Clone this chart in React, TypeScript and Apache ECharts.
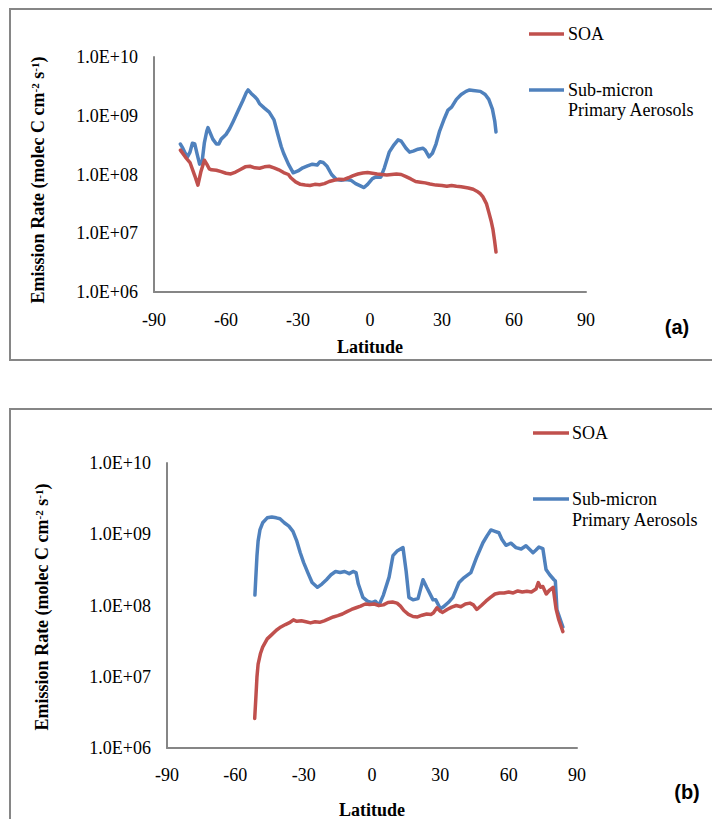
import React, { useEffect, useRef } from "react";
import * as echarts from "echarts";

// ---------- Data ----------
// Panel (a)
const latSoaA = [-79, -77, -75, -73, -71.7, -70.5, -69, -68, -67, -66, -64, -62, -60, -58, -56, -54, -52, -50, -48, -46, -44, -42, -40, -38, -36, -34, -33, -31, -29, -27, -25, -23, -21, -19, -17, -15, -13, -11, -9, -7, -5, -3, -1, 1, 3, 5, 7, 9, 11, 13, 15, 17, 19, 21, 23, 25, 27.5, 30, 32, 34, 36, 38, 41, 43, 44.5, 46, 47, 48.5, 49.6, 50.5, 51.25, 51.9, 52.5];
const soaA = [2.6e8, 2.0e8, 1.6e8, 9.5e7, 6.6e7, 1.1e8, 1.75e8, 1.5e8, 1.25e8, 1.2e8, 1.18e8, 1.12e8, 1.05e8, 1.02e8, 1.1e8, 1.22e8, 1.35e8, 1.38e8, 1.3e8, 1.28e8, 1.35e8, 1.38e8, 1.3e8, 1.2e8, 1.08e8, 1.0e8, 8.8e7, 7.5e7, 6.8e7, 6.6e7, 6.5e7, 6.8e7, 6.7e7, 7.0e7, 7.6e7, 8.0e7, 8.3e7, 8.2e7, 8.8e7, 9.6e7, 1.02e8, 1.06e8, 1.08e8, 1.05e8, 1.02e8, 1.0e8, 9.8e7, 1.0e8, 1.02e8, 1.0e8, 9.2e7, 8.4e7, 7.6e7, 7.4e7, 7.2e7, 6.9e7, 6.6e7, 6.5e7, 6.3e7, 6.5e7, 6.3e7, 6.2e7, 5.9e7, 5.6e7, 5.2e7, 4.7e7, 4.2e7, 3.2e7, 2.2e7, 1.6e7, 1.15e7, 7.5e6, 4.8e6];

const latPrimA = [-79, -78, -77, -76, -75, -74, -73, -72, -71, -70, -69, -68, -67.5, -66.5, -65.5, -64, -63, -62, -60, -58.5, -57, -55, -53, -51.5, -50.8, -49.5, -48, -47, -46, -44, -42, -40, -38.5, -37, -36, -34, -32, -30, -28, -26, -24, -22, -20.8, -19.5, -18, -16, -14, -12, -10, -8, -6, -4, -2.5, -1, 1, 2.5, 4.5, 6, 8, 10, 11.7, 13, 15, 16.5, 18, 20, 22, 23, 24.6, 26, 27.5, 29, 31, 32.5, 34, 36, 38, 40, 41.5, 43, 46, 48, 49.5, 51, 52, 52.5];
const primA = [3.3e8, 2.8e8, 2.3e8, 2.0e8, 2.4e8, 3.4e8, 3.3e8, 2.2e8, 1.5e8, 1.6e8, 3.5e8, 5.5e8, 6.3e8, 5.0e8, 4.0e8, 3.3e8, 3.3e8, 4.0e8, 4.8e8, 6.0e8, 8.0e8, 1.2e9, 1.8e9, 2.5e9, 2.75e9, 2.4e9, 2.1e9, 1.9e9, 1.6e9, 1.35e9, 1.15e9, 8.5e8, 5.0e8, 3.0e8, 2.3e8, 1.5e8, 1.07e8, 1.15e8, 1.3e8, 1.4e8, 1.5e8, 1.45e8, 1.65e8, 1.6e8, 1.4e8, 1.0e8, 8.2e7, 8.0e7, 8.2e7, 8.0e7, 7.0e7, 6.4e7, 6.0e7, 6.8e7, 8.5e7, 9.1e7, 9.0e7, 1.3e8, 2.4e8, 3.2e8, 3.9e8, 3.7e8, 2.8e8, 2.4e8, 2.5e8, 2.7e8, 2.8e8, 2.6e8, 2.0e8, 2.3e8, 3.3e8, 5.5e8, 9.0e8, 1.25e9, 1.4e9, 1.9e9, 2.3e9, 2.6e9, 2.75e9, 2.7e9, 2.6e9, 2.3e9, 1.9e9, 1.3e9, 8.0e8, 5.3e8];

// Panel (b)
const latSoaB = [-51.5, -51, -50.5, -50, -49, -48, -46, -44, -42, -40, -38, -36, -34.5, -33, -31, -29, -27, -25, -23, -21, -19, -17, -15, -13, -11, -9, -7, -5, -3, -1, 1, 3, 5, 7, 9, 11, 12.5, 14, 16, 18, 20, 22, 24, 26, 27, 28.5, 30, 31, 33, 35, 37, 39, 41, 43, 44.5, 46, 48, 50, 52, 54, 56, 58, 60, 62, 64, 66, 68, 70, 72, 73, 74, 75, 76.5, 78, 79.5, 80.8, 82, 83.8];
const soaB = [2.6e6, 5.0e6, 1.0e7, 1.5e7, 2.1e7, 2.6e7, 3.4e7, 3.9e7, 4.5e7, 5.0e7, 5.4e7, 5.8e7, 6.3e7, 6.0e7, 6.1e7, 5.9e7, 5.7e7, 5.9e7, 5.8e7, 6.1e7, 6.5e7, 6.9e7, 7.2e7, 7.6e7, 8.2e7, 8.8e7, 9.3e7, 9.8e7, 1.05e8, 1.03e8, 1.05e8, 1.0e8, 1.02e8, 1.1e8, 1.12e8, 1.08e8, 9.8e7, 8.5e7, 7.5e7, 7.0e7, 6.9e7, 7.3e7, 7.6e7, 7.5e7, 7.9e7, 9.3e7, 8.3e7, 8.0e7, 8.8e7, 9.5e7, 1.0e8, 9.6e7, 1.05e8, 1.08e8, 1.02e8, 8.8e7, 1.0e8, 1.15e8, 1.3e8, 1.45e8, 1.5e8, 1.5e8, 1.55e8, 1.5e8, 1.6e8, 1.55e8, 1.58e8, 1.55e8, 1.7e8, 2.1e8, 1.8e8, 1.85e8, 1.45e8, 1.65e8, 1.8e8, 9.0e7, 6.3e7, 4.3e7];

const latPrimB = [-51.4, -51, -50.5, -50, -49.2, -48, -46, -44, -42, -40.4, -38.5, -36.5, -34.7, -33, -31.5, -30, -28, -26.3, -24, -22, -20, -18, -16, -14, -12, -10, -8.3, -7, -6, -4, -2, 0, 1.5, 3, 5, 7.5, 9.2, 11, 13.6, 15, 16.2, 18, 20.2, 22.4, 24, 26.8, 28, 30, 31.2, 33.5, 35.5, 38.2, 40, 43.4, 46, 48.7, 50.5, 52.2, 54, 55.7, 57, 58.8, 61, 63.2, 65.5, 67.6, 70.7, 72, 73.3, 75, 76.4, 78, 79.9, 80.5, 81.2, 83.8];
const primB = [1.4e8, 2.5e8, 5.0e8, 8.0e8, 1.15e9, 1.45e9, 1.7e9, 1.75e9, 1.7e9, 1.65e9, 1.45e9, 1.3e9, 1.1e9, 8.0e8, 5.5e8, 4.0e8, 2.8e8, 2.1e8, 1.8e8, 2.0e8, 2.3e8, 2.7e8, 3.0e8, 2.9e8, 3.0e8, 2.8e8, 3.0e8, 2.9e8, 2.0e8, 1.3e8, 1.15e8, 1.1e8, 1.15e8, 1.0e8, 1.4e8, 2.5e8, 5.0e8, 5.8e8, 6.5e8, 3.0e8, 1.3e8, 1.2e8, 1.25e8, 2.3e8, 1.8e8, 1.2e8, 1.2e8, 9.0e7, 9.5e7, 1.1e8, 1.3e8, 2.1e8, 2.4e8, 2.9e8, 4.8e8, 7.6e8, 9.5e8, 1.15e9, 1.1e9, 1.05e9, 8.5e8, 7.0e8, 7.5e8, 6.5e8, 6.2e8, 6.9e8, 5.5e8, 6.0e8, 6.6e8, 6.3e8, 3.2e8, 2.7e8, 2.3e8, 2.2e8, 8.7e7, 5.0e7];

const xTicks = { min: -90, max: 90, interval: 30 };
const seriesNames = ["SOA", "Sub-micron\nPrimary Aerosols"];
const panelLabels = ["(a)", "(b)"];

const RED = "#C0504D";
const BLUE = "#4F81BD";
const AXIS = "#868686";
const SERIF = "'Liberation Serif', 'Times New Roman', serif";

const pairs = (xs: number[], ys: number[]) => xs.map((x, i) => [x, ys[i]]);

const yFmt = (v: number) => {
  const e = Math.round(Math.log10(v));
  return "1.0E+" + String(e).padStart(2, "0");
};

export default function App() {
  const ref = useRef<HTMLDivElement>(null);
  useEffect(() => {
    if (!ref.current) return;
    const chart = echarts.init(ref.current, undefined, { renderer: "svg" });

    const grids = [
      { left: 154, top: 57, width: 432, height: 235 },
      { left: 167, top: 463, width: 410, height: 285 },
    ];

    const xAxis = grids.map((_, i) => ({
      type: "value",
      gridIndex: i,
      min: xTicks.min,
      max: xTicks.max,
      interval: xTicks.interval,
      axisLine: { show: true, onZero: false, lineStyle: { color: AXIS, width: 2 } },
      axisTick: { show: false },
      splitLine: { show: false },
      axisLabel: { color: "#000", fontFamily: SERIF, fontSize: 18, margin: i === 0 ? 19 : 18 },
    }));

    const yAxis = grids.map((_, i) => ({
      type: "log",
      logBase: 10,
      gridIndex: i,
      min: 1e6,
      max: 1e10,
      axisLine: { show: true, onZero: false, lineStyle: { color: AXIS, width: 2 } },
      axisTick: { show: false },
      splitLine: { show: false },
      minorSplitLine: { show: false },
      axisLabel: { color: "#000", fontFamily: SERIF, fontSize: 18, margin: 16, formatter: yFmt },
    }));

    const line = (name: string, data: number[][], color: string, idx: number) => ({
      type: "line",
      name,
      xAxisIndex: idx,
      yAxisIndex: idx,
      data,
      showSymbol: false,
      symbol: "none",
      lineStyle: { color, width: 3.5, join: "round", cap: "round" },
      itemStyle: { color },
      z: name === "SOA" ? 3 : 2,
    });

    const yTitle = (x: number, y: number) => ({
      type: "text",
      x,
      y,
      rotation: Math.PI / 2,
      style: {
        text: "{b|Emission Rate (molec C cm}{s|-2}{b| s}{s|-1}{b|)}",
        textAlign: "center",
        textVerticalAlign: "middle",
        fill: "#000",
        rich: {
          b: { fontFamily: SERIF, fontWeight: "bold", fontSize: 18, fill: "#000", verticalAlign: "bottom" },
          s: { fontFamily: SERIF, fontWeight: "bold", fontSize: 11, fill: "#000", verticalAlign: "top" },
        },
      },
    });

    const legend = (x1: number, x2: number, yA: number, yB: number, lh: number, tx: number) => [
      { type: "line", shape: { x1, y1: yA, x2, y2: yA }, style: { stroke: RED, lineWidth: 3.5 } },
      { type: "text", x: tx, y: yA, style: { text: seriesNames[0], font: `18px ${SERIF}`, fill: "#000", textAlign: "left", textVerticalAlign: "middle" } },
      { type: "line", shape: { x1, y1: yB, x2, y2: yB }, style: { stroke: BLUE, lineWidth: 3.5 } },
      { type: "text", x: tx, y: yB - lh / 2, style: { text: seriesNames[1], font: `18px ${SERIF}`, fill: "#000", textAlign: "left", textVerticalAlign: "top", lineHeight: lh } },
    ];

    const option: any = {
      animation: false,
      backgroundColor: "#fff",
      grid: grids,
      xAxis,
      yAxis,
      series: [
        line(seriesNames[0], pairs(latSoaA, soaA), RED, 0),
        line(seriesNames[1], pairs(latPrimA, primA), BLUE, 0),
        line(seriesNames[0], pairs(latSoaB, soaB), RED, 1),
        line(seriesNames[1], pairs(latPrimB, primB), BLUE, 1),
      ],
      graphic: [
        { type: "rect", shape: { x: 10, y: 9, width: 710, height: 351 }, style: { fill: "none", stroke: AXIS, lineWidth: 2 }, z: -1 },
        { type: "rect", shape: { x: 10, y: 409, width: 710, height: 430 }, style: { fill: "none", stroke: AXIS, lineWidth: 2 }, z: -1 },
        yTitle(38, 180),
        yTitle(42, 607),
        { type: "text", x: 370, y: 347, style: { text: "Latitude", font: `bold 18px ${SERIF}`, fill: "#000", textAlign: "center", textVerticalAlign: "middle" } },
        { type: "text", x: 372, y: 810, style: { text: "Latitude", font: `bold 18px ${SERIF}`, fill: "#000", textAlign: "center", textVerticalAlign: "middle" } },
        { type: "text", x: 677, y: 327, style: { text: panelLabels[0], font: `bold 20px 'Liberation Sans', Arial, sans-serif`, fill: "#000", textAlign: "center", textVerticalAlign: "middle" } },
        { type: "text", x: 687, y: 792, style: { text: panelLabels[1], font: `bold 20px 'Liberation Sans', Arial, sans-serif`, fill: "#000", textAlign: "center", textVerticalAlign: "middle" } },
        ...legend(529, 564, 34, 90, 20, 568),
        ...legend(533, 569, 433, 499, 21, 572),
      ],
    };
    chart.setOption(option);
    return () => chart.dispose();
  }, []);

  return (
    <div
      ref={ref}
      style={{ position: "absolute", left: 0, top: 0, width: 712, height: 819, background: "#fff" }}
    />
  );
}
